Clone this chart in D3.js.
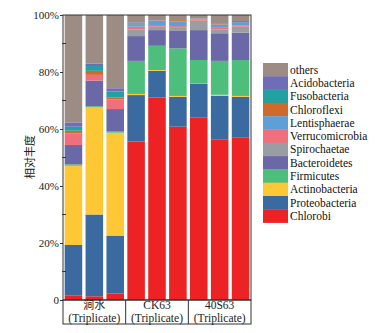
<!DOCTYPE html>
<html>
<head>
<meta charset="utf-8">
<script src="https://cdn.jsdelivr.net/npm/d3@7"></script>
<style>
  body { margin: 0; background: #fff; }
  text { font-family: "Liberation Serif", "Times New Roman", "DejaVu Serif", serif; }
</style>
</head>
<body>
<svg id="chart"></svg>
<script>
// stack order, bottom to top
let phyla = ["Chlorobi", "Proteobacteria", "Actinobacteria", "Firmicutes", "Bacteroidetes",
  "Spirochaetae", "Verrucomicrobia", "Lentisphaerae", "Chloroflexi", "Fusobacteria",
  "Acidobacteria", "others"];
let colors = ["#ec2224", "#3b6aa0", "#fdc735", "#4dbe7b", "#6a68a6",
  "#9a9ea3", "#ef6f7d", "#5f9fd8", "#d0692a", "#22a0a2",
  "#6f6cb8", "#9c8c84"];

let samples = ["s1", "s2", "s3", "s4", "s5", "s6", "s7", "s8", "s9"];
let groups = ["涧水", "CK63", "40S63"];

// relative abundance (%) per phylum, one value per sample
let Chlorobi        = [1.5, 1.3, 2.3, 55.6, 71.0, 60.8, 64.1, 56.4, 57.1];
let Proteobacteria  = [17.8, 28.7, 20.3, 16.3, 9.4, 10.5, 11.7, 15.2, 14.2];
let Actinobacteria  = [27.8, 37.6, 36.1, 0.4, 0.3, 0.3, 0.1, 0.4, 0.3];
let Firmicutes      = [0.5, 0.4, 0.4, 11.6, 8.5, 16.7, 8.3, 11.9, 12.6];
let Bacteroidetes   = [6.8, 9.0, 7.9, 8.7, 5.5, 6.1, 10.5, 9.7, 9.6];
let Spirochaetae    = [0, 0, 0, 2.4, 1.2, 1.1, 3.3, 1.4, 2.1];
let Verrucomicrobia = [4.1, 2.0, 3.4, 0.9, 0.6, 0.6, 0.5, 0.5, 0.5];
let Lentisphaerae   = [0, 0, 0, 0.9, 1.5, 1.6, 0.2, 1.2, 1.1];
let Chloroflexi     = [0.9, 1.4, 0.7, 0.3, 0.1, 0.5, 0, 0.3, 0.4];
let Fusobacteria    = [1.4, 1.7, 2.1, 0, 0, 0, 0, 0, 0];
let Acidobacteria   = [1.5, 0.9, 1.1, 0.3, 0.1, 0, 0, 0.2, 0];

let yTicks = [0, 20, 40, 60, 80, 100];
let yMinor = [10, 30, 50, 70, 90];

let series = {Chlorobi, Proteobacteria, Actinobacteria, Firmicutes, Bacteroidetes,
  Spirochaetae, Verrucomicrobia, Lentisphaerae, Chloroflexi, Fusobacteria, Acidobacteria};

// build rows; others fills up to 100
let rows = samples.map((s, i) => {
  let row = {sample: s};
  let sum = 0;
  phyla.slice(0, -1).forEach(p => { row[p] = series[p][i]; sum += series[p][i]; });
  row.others = 100 - sum;
  return row;
});

let w = 377, h = 333;
let svg = d3.select("#chart").attr("width", w).attr("height", h);

let x = d3.scaleBand().domain(samples).range([63, 251])
  .paddingInner(0.16).paddingOuter(0.08);
let y = d3.scaleLinear().domain([0, 100]).range([300, 15]);
let color = d3.scaleOrdinal().domain(phyla).range(colors);

let stack = d3.stack().keys(phyla);
let layers = stack(rows);

// bars
svg.append("g").selectAll("g")
  .data(layers)
  .enter().append("g")
  .attr("fill", d => color(d.key))
  .selectAll("rect")
  .data(d => d)
  .enter().append("rect")
  .attr("x", d => x(d.data.sample))
  .attr("y", d => y(d[1]))
  .attr("width", x.bandwidth())
  .attr("height", d => Math.max(0, y(d[0]) - y(d[1])));

// frame
svg.append("rect")
  .attr("x", 63).attr("y", y(100))
  .attr("width", 251 - 63).attr("height", y(0) - y(100))
  .attr("fill", "none").attr("stroke", "#333").attr("stroke-width", 1);

// y axis
let yAxis = d3.axisLeft(y).tickValues(yTicks).tickSize(3)
  .tickFormat(d => d === 0 ? "0" : d + "%");
let ga = svg.append("g").attr("transform", "translate(63,0)").call(yAxis);
ga.select(".domain").remove();
ga.selectAll("text").attr("font-size", 11).attr("fill", "#222").attr("x", -4);
ga.selectAll("line").attr("stroke", "#333");
svg.append("g").selectAll("line")
  .data(yMinor).enter().append("line")
  .attr("x1", 62).attr("x2", 66)
  .attr("y1", d => y(d)).attr("y2", d => y(d))
  .attr("stroke", "#333");

svg.append("text")
  .attr("transform", "translate(34,157) rotate(-90)")
  .attr("text-anchor", "middle")
  .attr("font-size", 11)
  .style("font-family", "'Noto Sans CJK SC', sans-serif")
  .attr("fill", "#222")
  .text("相对丰度");

// group label box
let edges = [63,
  (x(samples[2]) + x.bandwidth() + x(samples[3])) / 2,
  (x(samples[5]) + x.bandwidth() + x(samples[6])) / 2,
  251];
svg.append("rect")
  .attr("x", 63).attr("y", 300).attr("width", 251 - 63).attr("height", 24)
  .attr("fill", "none").attr("stroke", "#333");
[edges[1], edges[2]].forEach(e => {
  svg.append("line").attr("x1", e).attr("x2", e).attr("y1", 300).attr("y2", 324)
    .attr("stroke", "#333");
});
groups.forEach((g, i) => {
  let cx = (edges[i] + edges[i + 1]) / 2;
  svg.append("text").attr("x", cx).attr("y", 309)
    .attr("text-anchor", "middle").attr("font-size", i === 0 ? 11 : 11.5).attr("fill", "#222")
    .style("font-family", i === 0 ? "'Noto Sans CJK SC', serif" : null)
    .text(g);
  svg.append("text").attr("x", cx).attr("y", 321.5)
    .attr("text-anchor", "middle").attr("font-size", 11.5).attr("fill", "#222")
    .text("(Triplicate)");
});

// legend, top to bottom reversed from stack
let legendItems = phyla.slice().reverse();
let lg = svg.append("g").attr("transform", "translate(263,63)");
let lh = 13.3;
legendItems.forEach((p, i) => {
  lg.append("rect").attr("x", 0).attr("y", i * lh)
    .attr("width", 25).attr("height", lh + 0.3).attr("fill", color(p));
  lg.append("text").attr("x", 27).attr("y", i * lh + lh / 2 + 4)
    .attr("font-size", 11.5).attr("fill", "#111").text(p);
});
</script>
</body>
</html>
